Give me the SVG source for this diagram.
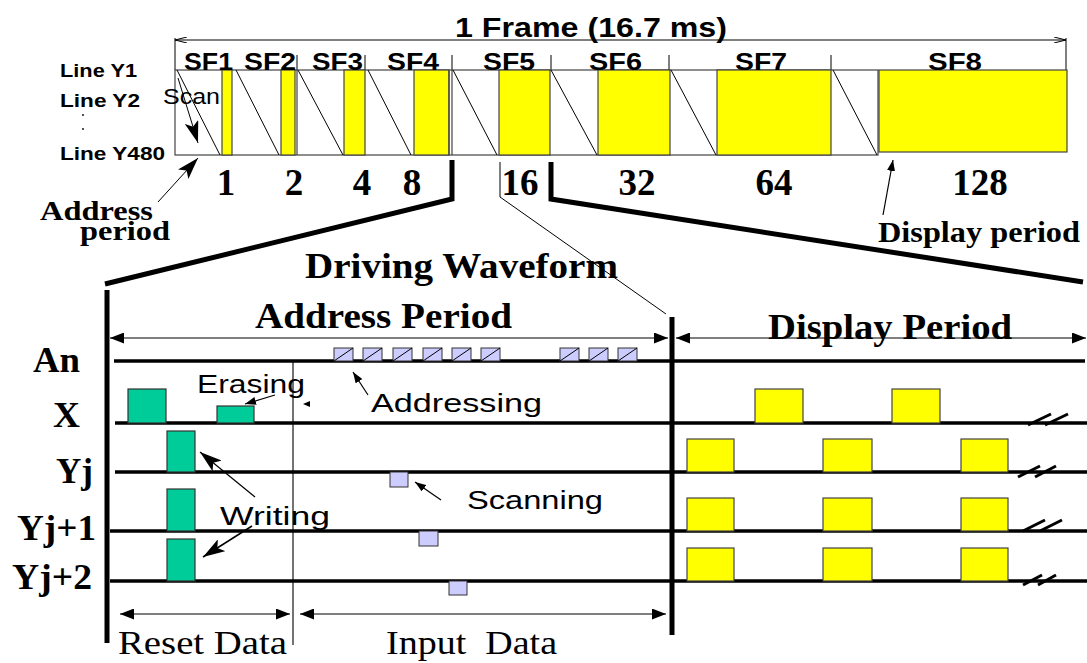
<svg xmlns="http://www.w3.org/2000/svg" width="1087" height="663" viewBox="0 0 1087 663">
<style>
.sb{font-family:"Liberation Sans",Arial,sans-serif;font-weight:bold;fill:#000}
.sr{font-family:"Liberation Sans",Arial,sans-serif;fill:#000}
.tb{font-family:"Liberation Serif","Times New Roman",serif;font-weight:bold;fill:#000}
.tr{font-family:"Liberation Serif","Times New Roman",serif;fill:#000}
.thin{stroke:#000;stroke-width:1;fill:none}
.thick{stroke:#000;stroke-width:5;fill:none}
.sig{stroke:#000;stroke-width:3.5;fill:none}
.yel{fill:#FFFF00;stroke:#444;stroke-width:1.2}
.grn{fill:#00CC99;stroke:#333;stroke-width:1.2}
.lav{fill:#CCCCFF;stroke:#333;stroke-width:1}
.brk{stroke:#000;stroke-width:3}
</style>
<defs>
<marker id="ah" markerWidth="14" markerHeight="11" refX="14" refY="5.5" orient="auto-start-reverse" markerUnits="userSpaceOnUse"><path d="M0,0 L14,5.5 L0,11 Z" fill="#000"/></marker>
<marker id="ahs" markerWidth="11" markerHeight="8" refX="11" refY="4" orient="auto" markerUnits="userSpaceOnUse"><path d="M0,0 L11,4 L0,8 Z" fill="#000"/></marker>
<marker id="aho" markerWidth="12" markerHeight="6" refX="12" refY="3" orient="auto-start-reverse" markerUnits="userSpaceOnUse"><path d="M0,0 L12,3 L0,6" fill="none" stroke="#000" stroke-width="1"/></marker>
<marker id="ahb" markerWidth="22" markerHeight="14" refX="22" refY="7" orient="auto" markerUnits="userSpaceOnUse"><path d="M0,0 L22,7 L0,14 L5,7 Z" fill="#000"/></marker>
</defs>

<g id="frame">
<line class="thin" x1="175" y1="40" x2="1066" y2="40" marker-start="url(#aho)" marker-end="url(#aho)"/>
<line class="thin" x1="175" y1="38" x2="175" y2="70"/>
<line class="thin" x1="1066" y1="38" x2="1066" y2="70"/>
<text class="sb" x="455" y="37" font-size="27" textLength="272" lengthAdjust="spacingAndGlyphs">1 Frame (16.7 ms)</text>
</g>

<g id="subframe-ticks" stroke="#000" stroke-width="1">
<line x1="297" y1="55" x2="297" y2="70"/>
<line x1="365" y1="55" x2="365" y2="70"/>
<line x1="452" y1="55" x2="452" y2="70"/>
<line x1="551" y1="55" x2="551" y2="70"/>
<line x1="669" y1="55" x2="669" y2="70"/>
<line x1="831" y1="55" x2="831" y2="70"/>
</g>

<g id="subframes">
<rect x="175" y="70" width="703" height="85" fill="#fff" stroke="#444" stroke-width="1.2"/>
<rect class="yel" x="222" y="70" width="10" height="85"/>
<rect class="yel" x="281" y="70" width="14" height="85"/>
<rect class="yel" x="344" y="70" width="21" height="85"/>
<rect class="yel" x="414" y="70" width="35" height="85"/>
<rect class="yel" x="499" y="70" width="51" height="85"/>
<rect class="yel" x="598" y="70" width="72" height="85"/>
<rect class="yel" x="717" y="70" width="114" height="85"/>
<rect class="yel" x="879" y="70" width="188" height="82"/>
<g stroke="#444" stroke-width="1.2">
<line x1="297" y1="70" x2="297" y2="155"/>
<line x1="452" y1="70" x2="452" y2="155"/>
<line x1="449" y1="70" x2="449" y2="155"/>
</g>
<g stroke="#000" stroke-width="1">
<line x1="177" y1="70" x2="220" y2="155"/>
<line x1="236" y1="70" x2="279" y2="155"/>
<line x1="298" y1="70" x2="343" y2="155"/>
<line x1="368" y1="70" x2="411" y2="155"/>
<line x1="453" y1="70" x2="497" y2="155"/>
<line x1="551" y1="70" x2="597" y2="155"/>
<line x1="671" y1="70" x2="716" y2="155"/>
<line x1="833" y1="70" x2="877" y2="155"/>
</g>
</g>

<g id="sf-labels" font-size="23">
<text class="sb" x="184" y="70" textLength="49" lengthAdjust="spacingAndGlyphs">SF1</text>
<text class="sb" x="244" y="70" textLength="52" lengthAdjust="spacingAndGlyphs">SF2</text>
<text class="sb" x="312" y="70" textLength="51" lengthAdjust="spacingAndGlyphs">SF3</text>
<text class="sb" x="387" y="70" textLength="52" lengthAdjust="spacingAndGlyphs">SF4</text>
<text class="sb" x="483" y="70" textLength="52" lengthAdjust="spacingAndGlyphs">SF5</text>
<text class="sb" x="589" y="70" textLength="53" lengthAdjust="spacingAndGlyphs">SF6</text>
<text class="sb" x="735" y="70" textLength="52" lengthAdjust="spacingAndGlyphs">SF7</text>
<text class="sb" x="928" y="70" textLength="54" lengthAdjust="spacingAndGlyphs">SF8</text>
</g>

<g id="line-labels" font-size="19">
<text class="sb" x="60" y="77" textLength="77" lengthAdjust="spacingAndGlyphs">Line Y1</text>
<text class="sb" x="60" y="107" textLength="80" lengthAdjust="spacingAndGlyphs">Line Y2</text>
<circle cx="83" cy="115" r="0.9" fill="#000"/>
<circle cx="83" cy="129" r="0.9" fill="#000"/>
<text class="sb" x="60" y="160" textLength="105" lengthAdjust="spacingAndGlyphs">Line Y480</text>
</g>

<g id="scan">
<line x1="178" y1="78" x2="198" y2="143" stroke="#000" stroke-width="1" marker-end="url(#ahb)"/>
<text class="sr" x="163" y="104" font-size="22" textLength="57" lengthAdjust="spacingAndGlyphs">Scan</text>
</g>

<g id="weights" font-size="37" text-anchor="middle">
<text class="tb" x="226" y="195">1</text>
<text class="tb" x="294" y="195">2</text>
<text class="tb" x="362" y="195">4</text>
<text class="tb" x="412" y="195">8</text>
<text class="tb" x="520" y="195">16</text>
<text class="tb" x="637" y="195">32</text>
<text class="tb" x="774" y="195">64</text>
<text class="tb" x="980" y="195">128</text>
</g>

<g id="address-period-label">
<line x1="158" y1="202" x2="198" y2="158" stroke="#000" stroke-width="1" marker-end="url(#ahb)"/>
<text class="tb" x="40" y="220" font-size="28" textLength="113" lengthAdjust="spacingAndGlyphs">Address</text>
<text class="tb" x="80" y="240" font-size="28" textLength="90" lengthAdjust="spacingAndGlyphs">period</text>
</g>

<g id="display-period-label">
<line x1="883" y1="215" x2="893" y2="160" stroke="#000" stroke-width="1.2" marker-end="url(#ahs)"/>
<text class="tb" x="878" y="242" font-size="30" textLength="202" lengthAdjust="spacingAndGlyphs">Display period</text>
</g>

<g id="connectors">
<polyline class="thick" points="452,160 452,199 105,284"/>
<polyline class="thick" points="551,162 551,199 1083,282"/>
<polyline class="thin" points="500,162 500,197 666,314"/>
</g>

<g id="waveform-frame">
<line x1="107" y1="290" x2="107" y2="643" stroke="#000" stroke-width="5"/>
<line x1="672" y1="317" x2="672" y2="635" stroke="#000" stroke-width="5"/>
<line x1="293" y1="361" x2="293" y2="645" stroke="#444" stroke-width="1.5"/>
<text class="tb" x="305" y="278" font-size="35" textLength="313" lengthAdjust="spacingAndGlyphs">Driving Waveform</text>
<text class="tb" x="255" y="328" font-size="35" textLength="257" lengthAdjust="spacingAndGlyphs">Address Period</text>
<text class="tb" x="768" y="339" font-size="35" textLength="244" lengthAdjust="spacingAndGlyphs">Display Period</text>
<line x1="110" y1="338" x2="668" y2="338" stroke="#000" stroke-width="1" marker-start="url(#ah)" marker-end="url(#ah)"/>
<line x1="676" y1="338" x2="1086" y2="338" stroke="#000" stroke-width="1" marker-start="url(#ah)" marker-end="url(#ah)"/>
</g>

<g id="signal-lines">
<line class="sig" x1="114" y1="361" x2="1085" y2="361"/>
<line class="sig" x1="115" y1="423" x2="1087" y2="423"/>
<line class="sig" x1="115" y1="472" x2="1087" y2="472"/>
<line class="sig" x1="110" y1="531" x2="1087" y2="531"/>
<line class="sig" x1="110" y1="581" x2="1087" y2="581"/>
</g>

<g id="row-labels" font-size="35">
<text class="tb" x="33" y="372" textLength="47" lengthAdjust="spacingAndGlyphs">An</text>
<text class="tb" x="53" y="427" textLength="27" lengthAdjust="spacingAndGlyphs">X</text>
<text class="tb" x="56" y="483" textLength="37" lengthAdjust="spacingAndGlyphs">Yj</text>
<text class="tb" x="17" y="540" textLength="79" lengthAdjust="spacingAndGlyphs">Yj+1</text>
<text class="tb" x="12" y="589" textLength="80" lengthAdjust="spacingAndGlyphs">Yj+2</text>
</g>

<g id="reset-pulses">
<rect class="grn" x="128" y="389" width="38" height="34"/>
<rect class="grn" x="217" y="406" width="37" height="17"/>
<rect class="grn" x="167" y="431" width="28" height="41"/>
<rect class="grn" x="167" y="489" width="28" height="42"/>
<rect class="grn" x="167" y="539" width="28" height="42"/>
</g>

<g id="address-pulses">
<g class="lav">
<rect x="334" y="348" width="19" height="13"/>
<rect x="363" y="348" width="19" height="13"/>
<rect x="393" y="348" width="19" height="13"/>
<rect x="423" y="348" width="19" height="13"/>
<rect x="452" y="348" width="19" height="13"/>
<rect x="481" y="348" width="19" height="13"/>
<rect x="560" y="348" width="19" height="13"/>
<rect x="589" y="348" width="19" height="13"/>
<rect x="618" y="348" width="19" height="13"/>
</g>
<g stroke="#000" stroke-width="1">
<line x1="334" y1="361" x2="353" y2="348"/>
<line x1="363" y1="361" x2="382" y2="348"/>
<line x1="393" y1="361" x2="412" y2="348"/>
<line x1="423" y1="361" x2="442" y2="348"/>
<line x1="452" y1="361" x2="471" y2="348"/>
<line x1="481" y1="361" x2="500" y2="348"/>
<line x1="560" y1="361" x2="579" y2="348"/>
<line x1="589" y1="361" x2="608" y2="348"/>
<line x1="618" y1="361" x2="637" y2="348"/>
</g>
</g>

<g id="scan-pulses" class="lav">
<rect x="390" y="472" width="18" height="15"/>
<rect x="419" y="531" width="19" height="15"/>
<rect x="449" y="581" width="18" height="14"/>
</g>

<g id="display-pulses">
<rect class="yel" x="755" y="389" width="48" height="34"/>
<rect class="yel" x="892" y="389" width="48" height="34"/>
<rect class="yel" x="687" y="439" width="47" height="33"/>
<rect class="yel" x="823" y="439" width="49" height="33"/>
<rect class="yel" x="961" y="439" width="47" height="33"/>
<rect class="yel" x="687" y="498" width="47" height="33"/>
<rect class="yel" x="823" y="498" width="49" height="33"/>
<rect class="yel" x="961" y="498" width="47" height="33"/>
<rect class="yel" x="687" y="548" width="47" height="33"/>
<rect class="yel" x="823" y="548" width="49" height="33"/>
<rect class="yel" x="961" y="548" width="47" height="33"/>
</g>

<g id="breaks">
<line class="brk" x1="1028" y1="425" x2="1051" y2="414"/>
<line class="brk" x1="1045" y1="425" x2="1068" y2="414"/>
<line class="brk" x1="1018" y1="477" x2="1040" y2="466"/>
<line class="brk" x1="1035" y1="477" x2="1056" y2="466"/>
<line class="brk" x1="1023" y1="531" x2="1045" y2="520"/>
<line class="brk" x1="1040" y1="531" x2="1062" y2="520"/>
<line class="brk" x1="1023" y1="585" x2="1042" y2="575"/>
<line class="brk" x1="1038" y1="585" x2="1056" y2="575"/>
</g>

<g id="annotations">
<text class="sr" x="197" y="393" font-size="25" textLength="108" lengthAdjust="spacingAndGlyphs">Erasing</text>
<line x1="275" y1="395" x2="245" y2="404" stroke="#000" stroke-width="1.2" marker-end="url(#ahs)"/>
<path d="M303,404 L310,401 L310,407 Z" fill="#000"/>
<text class="sr" x="371" y="412" font-size="25" textLength="171" lengthAdjust="spacingAndGlyphs">Addressing</text>
<line x1="368" y1="395" x2="353" y2="372" stroke="#000" stroke-width="1.2" marker-end="url(#ahs)"/>
<text class="sr" x="467" y="509" font-size="25" textLength="136" lengthAdjust="spacingAndGlyphs">Scanning</text>
<line x1="441" y1="500" x2="415" y2="482" stroke="#000" stroke-width="1.2" marker-end="url(#ahs)"/>
<text class="sr" x="220" y="525" font-size="25" textLength="110" lengthAdjust="spacingAndGlyphs">Writing</text>
<line x1="255" y1="497" x2="200" y2="452" stroke="#000" stroke-width="1.2" marker-end="url(#ahb)"/>
<line x1="252" y1="526" x2="203" y2="557" stroke="#000" stroke-width="1.5" marker-end="url(#ahb)"/>
</g>

<g id="data-spans">
<line x1="120" y1="614" x2="290" y2="614" stroke="#000" stroke-width="1.2" marker-start="url(#ah)" marker-end="url(#ah)"/>
<line x1="300" y1="614" x2="666" y2="614" stroke="#000" stroke-width="1.2" marker-start="url(#ah)" marker-end="url(#ah)"/>
<text class="tr" x="118" y="654" font-size="34" textLength="169" lengthAdjust="spacingAndGlyphs">Reset Data</text>
<text class="tr" x="386" y="654" font-size="34" textLength="171" lengthAdjust="spacingAndGlyphs" xml:space="preserve">Input  Data</text>
</g>
</svg>
